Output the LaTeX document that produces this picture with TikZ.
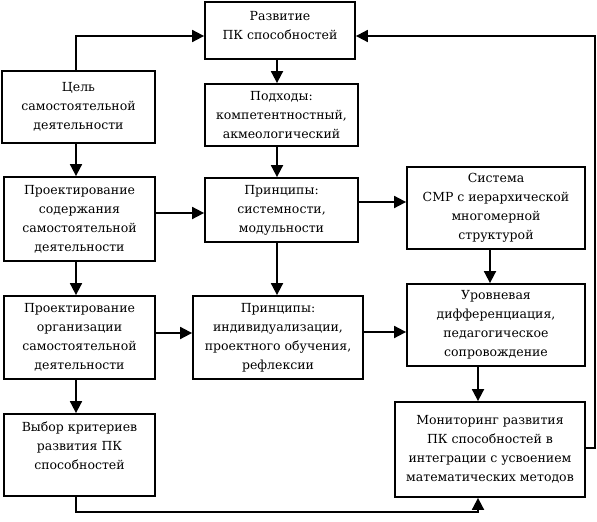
\documentclass[tikz,border=0pt]{standalone}
\usepackage{fontspec}
\setmainfont{DejaVu Serif}
\usetikzlibrary{arrows.meta}
\begin{document}
\begin{tikzpicture}[x=1pt,y=-1pt,
  box/.style={draw, line width=1.8pt, align=center, inner sep=2pt,
    font=\fontsize{12.5}{19}\selectfont},
  arr/.style={line width=1.8pt, -{Triangle[length=12pt,width=12pt]}}]
\useasboundingbox (0,0) rectangle (597,522);
\node[box, minimum width=150, minimum height=57] (A) at (280,30.5) {Развитие\\ПК способностей\\[-8pt]\mbox{}};
\node[box, minimum width=153, minimum height=62] (B) at (281.5,115) {Подходы:\\компетентностный,\\акмеологический};
\node[box, minimum width=153, minimum height=72] (C) at (78.5,107) {Цель\\самостоятельной\\деятельности};
\node[box, minimum width=151, minimum height=84] (D) at (79.5,219) {Проектирование\\содержания\\самостоятельной\\деятельности};
\node[box, minimum width=153, minimum height=64] (E) at (281.5,210) {Принципы:\\системности,\\модульности};
\node[box, minimum width=178, minimum height=82] (F) at (496,208) {Система\\СМР с иерархической\\многомерной\\структурой};
\node[box, minimum width=151, minimum height=83] (G) at (79.5,337.5) {Проектирование\\организации\\самостоятельной\\деятельности};
\node[box, minimum width=170, minimum height=83] (H) at (278,337.5) {Принципы:\\индивидуализации,\\проектного обучения,\\рефлексии};
\node[box, minimum width=178, minimum height=82] (I) at (496,325) {Уровневая\\дифференциация,\\педагогическое\\сопровождение};
\node[box, minimum width=151, minimum height=82] (J) at (79.5,455) {Выбор критериев\\развития ПК\\способностей\\\mbox{}};
\node[box, minimum width=190, minimum height=95] (K) at (490,449.5) {Мониторинг развития\\ПК способностей в\\интеграции с усвоением\\математических методов};
\coordinate (c1) at (76,0);
\coordinate (c2) at (277,0);
\coordinate (c3) at (490,0);
\coordinate (c4) at (478,0);
\coordinate (fr) at (595,0);
\coordinate (ra) at (0,36);
\coordinate (rde) at (0,213);
\coordinate (ref) at (0,202);
\coordinate (rgh) at (0,333);
\coordinate (rhi) at (0,332);
\coordinate (rk) at (0,448);
\coordinate (rb) at (0,512);
\draw[arr] (C.north -| c1) -- (c1 |- ra) -- (A.west |- ra);
\draw[arr] (A.south -| c2) -- (B.north -| c2);
\draw[arr] (B.south -| c2) -- (E.north -| c2);
\draw[arr] (E.south -| c2) -- (H.north -| c2);
\draw[arr] (C.south -| c1) -- (D.north -| c1);
\draw[arr] (D.south -| c1) -- (G.north -| c1);
\draw[arr] (G.south -| c1) -- (J.north -| c1);
\draw[arr] (D.east |- rde) -- (E.west |- rde);
\draw[arr] (E.east |- ref) -- (F.west |- ref);
\draw[arr] (G.east |- rgh) -- (H.west |- rgh);
\draw[arr] (H.east |- rhi) -- (I.west |- rhi);
\draw[arr] (F.south -| c3) -- (I.north -| c3);
\draw[arr] (I.south -| c4) -- (K.north -| c4);
\draw[arr] (J.south -| c1) -- (c1 |- rb) -- (rb -| c4) -- (K.south -| c4);
\draw[arr] (K.east |- rk) -- (rk -| fr) -- (fr |- ra) -- (A.east |- ra);
\end{tikzpicture}
\end{document}
